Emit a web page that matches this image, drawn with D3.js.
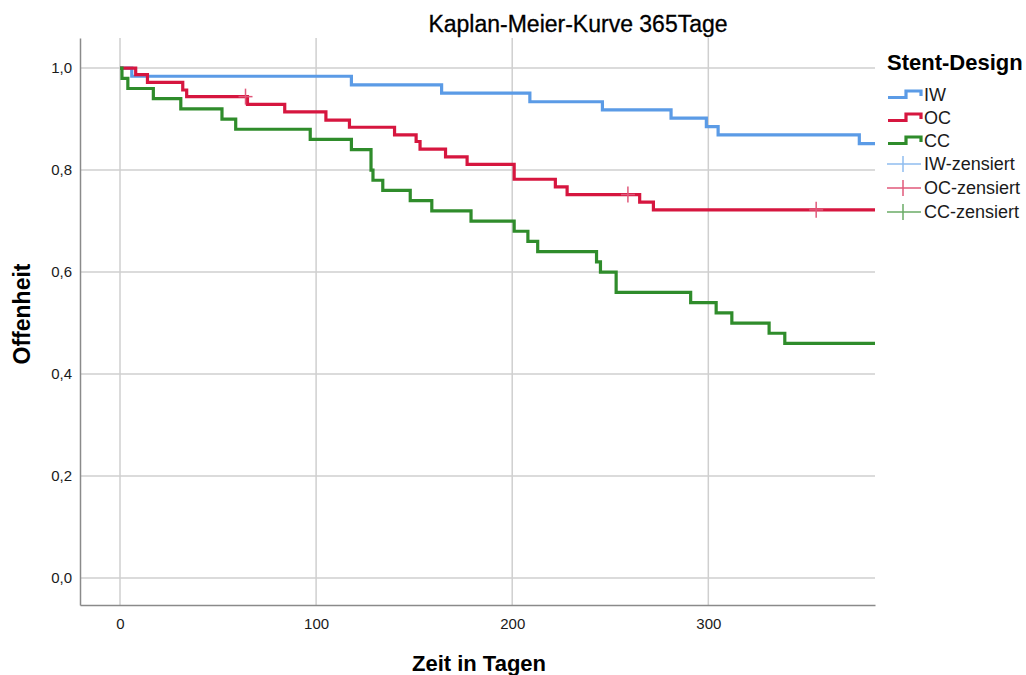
<!DOCTYPE html>
<html>
<head>
<meta charset="utf-8">
<script src="https://cdn.jsdelivr.net/npm/d3@7"></script>
<style>
  html, body { margin: 0; padding: 0; background: #fff; }
  svg { display: block; font-family: "Liberation Sans", Arial, sans-serif; }
</style>
</head>
<body>
<svg id="chart" width="1026" height="675"></svg>
<script>
// Kaplan-Meier estimates per stent design (time in days, survival probability)
const iwTimes = [0, 6, 118, 164, 209, 246, 281, 299, 305, 377, 385];
const iwSurv  = [1, 0.984, 0.967, 0.951, 0.934, 0.918, 0.902, 0.885, 0.869, 0.852, 0.852];

const ocTimes = [0, 8, 14, 32, 34, 65, 84, 105, 117, 140, 151, 153, 166, 177, 201, 222, 228, 265, 272, 385];
const ocSurv  = [1, 0.987, 0.972, 0.957, 0.944, 0.929, 0.914, 0.898, 0.884, 0.869, 0.856, 0.841, 0.826, 0.811, 0.782, 0.767, 0.752, 0.737, 0.722, 0.722];
const ocCensTimes = [64, 259, 355];
const ocCensSurv  = [0.944, 0.752, 0.722];

const ccTimes = [0, 1, 4, 17, 31, 52, 59, 97, 118, 128, 129, 134, 148, 159, 179, 201, 208, 213, 243, 245, 253, 291, 304, 312, 331, 339, 385];
const ccSurv  = [1, 0.98, 0.96, 0.94, 0.92, 0.90, 0.88, 0.86, 0.84, 0.80, 0.78, 0.76, 0.74, 0.72, 0.70, 0.68, 0.66, 0.64, 0.62, 0.60, 0.56, 0.54, 0.52, 0.50, 0.48, 0.46, 0.46];

const xTicks = [0, 100, 200, 300];
const yTicks = [0, 0.2, 0.4, 0.6, 0.8, 1.0];
const groupNames = ["IW", "OC", "CC"];
const censorLabels = ["IW-zensiert", "OC-zensiert", "CC-zensiert"];
const groupColors = ["#5b9be6", "#d6163f", "#2f8c2b"];
const censorColors = ["#8fbcef", "#e0587a", "#6aab66"];

const svg = d3.select("#chart");
const plot = { left: 80, right: 875, top: 38, bottom: 605 };

const x = d3.scaleLinear().domain([-20.4, 385]).range([plot.left, plot.right]);
const y = d3.scaleLinear().domain([-0.053, 1.059]).range([plot.bottom, plot.top]);

const fmt = d => d3.format(".1f")(d).replace(".", ",");

// grid lines
const grid = svg.append("g");
grid.selectAll("line.v").data(xTicks).join("line")
  .attr("x1", d => x(d)).attr("x2", d => x(d))
  .attr("y1", plot.top).attr("y2", plot.bottom)
  .attr("stroke", "#cfcfcf").attr("stroke-width", 1.5);
grid.selectAll("line.h").data(yTicks).join("line")
  .attr("x1", plot.left).attr("x2", plot.right)
  .attr("y1", d => y(d)).attr("y2", d => y(d))
  .attr("stroke", "#cfcfcf").attr("stroke-width", 1.5);

// axes
const xAxis = svg.append("g").attr("transform", `translate(0,${plot.bottom})`)
  .call(d3.axisBottom(x).tickValues(xTicks).tickSize(0).tickPadding(13).tickFormat(d3.format("d")));
const yAxis = svg.append("g").attr("transform", `translate(${plot.left},0)`)
  .call(d3.axisLeft(y).tickValues(yTicks).tickSize(0).tickPadding(8).tickFormat(fmt));
[xAxis, yAxis].forEach(a => {
  a.select(".domain").attr("stroke", "#8a8a8a").attr("stroke-width", 1.5);
  a.selectAll("text").attr("font-size", 15).attr("fill", "#1a1a1a")
    .attr("font-family", "'Liberation Sans', Arial, sans-serif");
});

// survival step curves
const series = [
  { times: iwTimes, surv: iwSurv },
  { times: ocTimes, surv: ocSurv },
  { times: ccTimes, surv: ccSurv }
];
const line = d3.line().curve(d3.curveStepAfter).x(d => x(d[0])).y(d => y(d[1]));
series.forEach((s, i) => {
  svg.append("path")
    .datum(d3.zip(s.times, s.surv))
    .attr("d", line)
    .attr("fill", "none")
    .attr("stroke", groupColors[i])
    .attr("stroke-width", 3.2)
    .attr("stroke-linejoin", "miter");
});

// censor marks (OC)
const cens = svg.append("g");
d3.zip(ocCensTimes, ocCensSurv).forEach(([t, s]) => {
  cens.append("line").attr("x1", x(t)).attr("x2", x(t)).attr("y1", y(s) - 8).attr("y2", y(s) + 8)
    .attr("stroke", censorColors[1]).attr("stroke-width", 1.5);
  cens.append("line").attr("x1", x(t) - 7).attr("x2", x(t) + 7).attr("y1", y(s)).attr("y2", y(s))
    .attr("stroke", censorColors[1]).attr("stroke-width", 1.5);
});

// title and axis titles
svg.append("text").attr("x", 578).attr("y", 32).attr("text-anchor", "middle")
  .attr("font-size", 23).attr("fill", "#000").attr("stroke", "#000").attr("stroke-width", 0.3)
  .text("Kaplan-Meier-Kurve 365Tage");
svg.append("text").attr("x", 479).attr("y", 671).attr("text-anchor", "middle")
  .attr("font-size", 22).attr("font-weight", "bold").attr("fill", "#000").text("Zeit in Tagen");
svg.append("text").attr("transform", "translate(30,314) rotate(-90)").attr("text-anchor", "middle")
  .attr("font-size", 23).attr("font-weight", "bold").attr("fill", "#000").text("Offenheit");

// legend
const legend = svg.append("g");
legend.append("text").attr("x", 887).attr("y", 70).attr("font-size", 22).attr("font-weight", "bold")
  .attr("fill", "#000").text("Stent-Design");
const rowY = [95, 118, 141, 164, 188, 212];
groupNames.forEach((name, i) => {
  const cy = rowY[i];
  legend.append("path")
    .attr("d", `M888,${cy + 2.5}H906V${cy - 4}H921V${cy + 1}`)
    .attr("fill", "none").attr("stroke", groupColors[i]).attr("stroke-width", 3.2);
  legend.append("text").attr("x", 924).attr("y", cy + 6).attr("font-size", 18).attr("fill", "#1a1a1a").text(name);
});
censorLabels.forEach((name, i) => {
  const cy = rowY[i + 3];
  legend.append("line").attr("x1", 887).attr("x2", 921).attr("y1", cy).attr("y2", cy)
    .attr("stroke", censorColors[i]).attr("stroke-width", 1.5);
  legend.append("line").attr("x1", 903).attr("x2", 903).attr("y1", cy - 8).attr("y2", cy + 8)
    .attr("stroke", censorColors[i]).attr("stroke-width", 1.5);
  legend.append("text").attr("x", 924).attr("y", cy + 6).attr("font-size", 18).attr("fill", "#1a1a1a").text(name);
});
</script>
</body>
</html>
